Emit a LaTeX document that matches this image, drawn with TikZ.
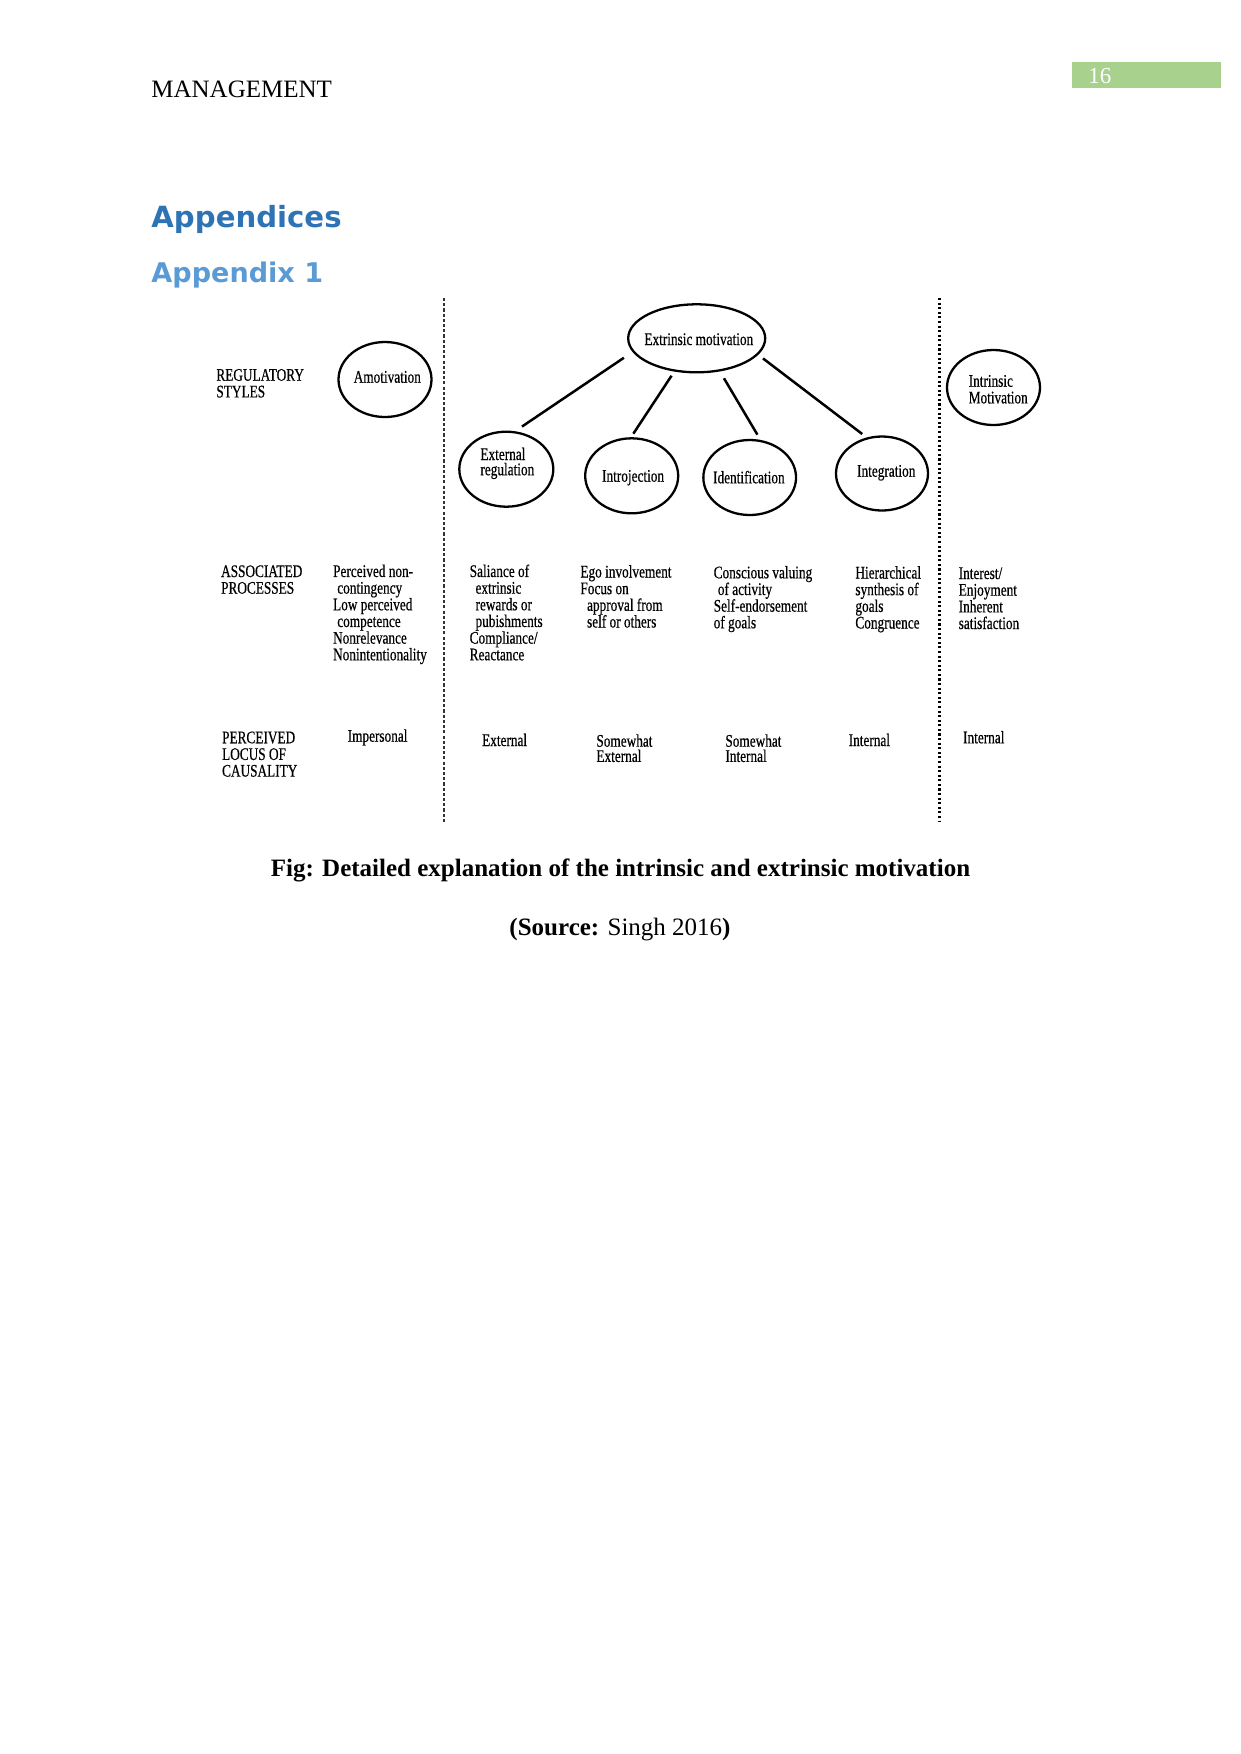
\documentclass[tikz,border=0pt]{standalone}
\usepackage{fontspec}
\setmainfont{Liberation Serif}
\newfontfamily\dgfont[FakeStretch=0.75,FakeBold=0.5]{Liberation Serif}
\newfontfamily\headfont{DejaVu Sans}
\usetikzlibrary{shapes.geometric}
\definecolor{pgGreen}{HTML}{A9D18E}
\definecolor{hOne}{HTML}{2E74B5}
\definecolor{hTwo}{HTML}{5B9BD5}
\def\pxu{0.48pt}
\tikzset{
  oval/.style={ellipse, draw, line width=1.1pt, inner sep=0pt},
  dg/.style={font=\dgfont\fontsize{8.5}{8}\selectfont, inner sep=0pt, anchor=base west, align=left},
  dgs/.style={font=\dgfont\fontsize{8.5}{7.3}\selectfont, inner sep=0pt, anchor=base west, align=left},
  conn/.style={line width=1.2pt},
  txt/.style={inner sep=0pt, anchor=base west}
}
\begin{document}
\begin{tikzpicture}[x=0.48pt, y=-0.48pt]
\useasboundingbox (0,0) rectangle (1241,1754);
% header
\node[txt, font=\fontsize{12}{14}\selectfont] (hdr) at (151,97) {MANAGEMENT};
\node[fill=pgGreen, inner sep=0pt, anchor=north west, minimum width=149*\pxu, minimum height=26*\pxu] (pgbox) at (1072,62) {};
\node[txt, font=\fontsize{11}{13}\selectfont, text=white] (pgnum) at (1088,83.5) {16};
% headings
\node[txt, font=\headfont\bfseries\fontsize{14}{17}\selectfont, text=hOne] (h1) at (151,227) {Appendices};
\node[txt, font=\headfont\bfseries\fontsize{13}{16}\selectfont, text=hTwo] (h2) at (151,282) {Appendix 1};
% separators
\draw[line width=0.7pt, dash pattern=on 1.5pt off 1pt, black!80] (444,298) -- (444,822);
\draw[line width=1pt, dash pattern=on 1pt off 1.2pt] (939.5,298) -- (939.5,822);
% ellipses
\node[oval, minimum width=93*\pxu, minimum height=75*\pxu] (amo) at (385,379.5) {};
\node[oval, minimum width=137*\pxu, minimum height=68*\pxu] (ext) at (696.7,338.3) {};
\node[oval, minimum width=94*\pxu, minimum height=75*\pxu] (er) at (506.3,469.2) {};
\node[oval, minimum width=93*\pxu, minimum height=75*\pxu] (intro) at (631.7,475.8) {};
\node[oval, minimum width=92.7*\pxu, minimum height=75*\pxu] (ident) at (749.7,477.5) {};
\node[oval, minimum width=92*\pxu, minimum height=74*\pxu] (integ) at (882,473.5) {};
\node[oval, minimum width=93*\pxu, minimum height=75*\pxu] (intr) at (993.5,387.5) {};
% connectors
\draw[conn, shorten <=5pt, shorten >=4pt] (ext.192) -- (er.77);
\draw[conn, shorten <=2.4pt, shorten >=2pt] (ext.236) -- (intro.91);
\draw[conn, shorten <=3.8pt, shorten >=2.9pt] (ext.305) -- (ident.74);
\draw[conn, shorten <=2.9pt, shorten >=2.7pt] (ext.345) -- (integ.113);
% ellipse texts (multi-line nodes: base = last line)
\node[dg] (amoT) at (353.3,382.7) {Amotivation};
\node[dg] (extT) at (644,345) {Extrinsic motivation};
\node[dgs] (erT) at (480,475.2) {External\\regulation};
\node[dg] (introT) at (601.7,481.7) {Introjection};
\node[dg] (identT) at (712.7,483.3) {Identification};
\node[dg] (integT) at (856.7,476.7) {Integration};
\node[dg] (intrT) at (968.3,403.4) {Intrinsic\\Motivation};
% row labels
\node[dg] (rs) at (216,397.4) {REGULATORY\\STYLES};
\node[dg] (ap) at (220.7,593.7) {ASSOCIATED\\PROCESSES};
\node[dg] (pl) at (221.7,776.6) {PERCEIVED\\LOCUS OF\\CAUSALITY};
% associated processes
\node[dg] (p1) at (332.7,660.3) {Perceived non-\\\hspace*{2pt}contingency\\Low perceived\\\hspace*{2pt}competence\\Nonrelevance\\Nonintentionality};
\node[dg] (p2) at (469.3,660.3) {Saliance of\\\hspace*{2.8pt}extrinsic\\\hspace*{2.8pt}rewards or\\\hspace*{2.8pt}pubishments\\Compliance/\\Reactance};
\node[dg] (p3) at (580,627.5) {Ego involvement\\Focus on\\\hspace*{3.2pt}approval from\\\hspace*{3.2pt}self or others};
\node[dg] (p4) at (713.3,628.3) {Conscious valuing\\\hspace*{2pt}of activity\\Self-endorsement\\of goals};
\node[dg] (p5) at (855,628.5) {Hierarchical\\synthesis of\\goals\\Congruence};
\node[dg] (p6) at (958.3,629) {Interest/\\Enjoyment\\Inherent\\satisfaction};
% locus of causality
\node[dg] (l1) at (347.3,741.7) {Impersonal};
\node[dg] (l2) at (481.7,746) {External};
\node[dgs] (l3) at (596,761.9) {Somewhat\\External};
\node[dgs] (l4) at (725,761.9) {Somewhat\\Internal};
\node[dg] (l5) at (848.3,746) {Internal};
\node[dg] (l6) at (962.7,743.3) {Internal};
% caption
\node[inner sep=0pt, anchor=base, font=\bfseries\fontsize{12}{14}\selectfont] (cap) at (620.5,876) {Fig: Detailed explanation of the intrinsic and extrinsic motivation};
\node[inner sep=0pt, anchor=base, font=\fontsize{12}{14}\selectfont] (src) at (620,935) {\textbf{(Source:} Singh 2016\textbf{)}};
\end{tikzpicture}
\end{document}
